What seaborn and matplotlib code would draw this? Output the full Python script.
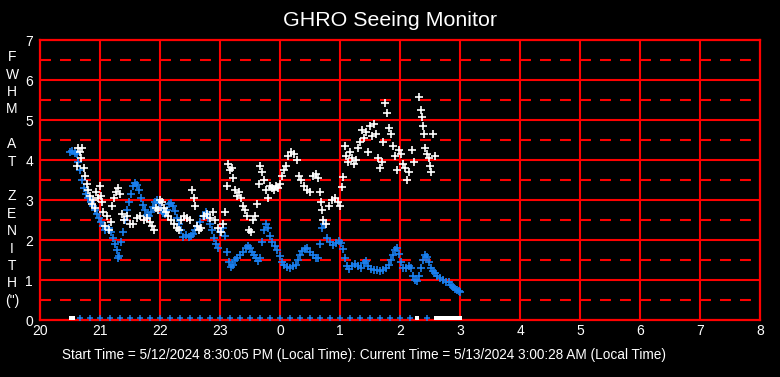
import matplotlib
matplotlib.use("Agg")
import matplotlib.pyplot as plt
import seaborn as sns
import pandas as pd

# FWHM at zenith (arcsec) vs local time in hours (24+ = after midnight)
blue_t = [20.50, 20.53, 20.58, 20.62, 20.63, 20.67, 20.70, 20.73, 20.77, 20.80,
          20.85, 20.88, 20.92, 20.95, 20.98, 21.02, 21.05, 21.08, 21.15, 21.18,
          21.22, 21.25, 21.28, 21.30, 21.32, 21.35, 21.38, 21.42, 21.45, 21.48,
          21.52, 21.55, 21.58, 21.62, 21.65, 21.68, 21.72, 21.75, 21.78, 21.82,
          21.85, 21.88, 21.92, 21.95, 21.98, 22.02, 22.05, 22.08, 22.12, 22.15,
          22.18, 22.22, 22.25, 22.28, 22.32, 22.35, 22.38, 22.43, 22.48, 22.52,
          22.55, 22.58, 22.62, 22.67, 22.72, 22.77, 22.80, 22.83, 22.87, 22.90,
          22.93, 22.97, 23.00, 23.05, 23.08, 23.12, 23.15, 23.18, 23.22, 23.25,
          23.28, 23.33, 23.38, 23.43, 23.47, 23.50, 23.53, 23.57, 23.60, 23.63,
          23.67, 23.70, 23.73, 23.77, 23.80, 23.83, 23.87, 23.92, 23.95, 24.00,
          24.03, 24.07, 24.12, 24.17, 24.22, 24.27, 24.30, 24.33, 24.37, 24.42,
          24.45, 24.50, 24.55, 24.60, 24.63, 24.67, 24.70, 24.73, 24.78, 24.83,
          24.88, 24.93, 24.98, 25.02, 25.05, 25.08, 25.12, 25.15, 25.20, 25.25,
          25.30, 25.35, 25.40, 25.43, 25.47, 25.52, 25.57, 25.62, 25.67, 25.72,
          25.77, 25.82, 25.85, 25.88, 25.92, 25.95, 25.98, 26.02, 26.05, 26.10,
          26.15, 26.18, 26.22, 26.25, 26.28, 26.32, 26.35, 26.38, 26.42, 26.45,
          26.48, 26.52, 26.55, 26.58, 26.62, 26.67, 26.72, 26.77, 26.82, 26.85,
          26.88, 26.92, 26.95, 26.98, 27.00]
blue_v = [4.20, 4.22, 4.18, 4.15, 3.95, 3.75, 3.50, 3.30, 3.15, 3.05,
          2.95, 2.85, 2.75, 2.65, 2.55, 2.45, 2.35, 2.25, 2.30, 2.20,
          2.05, 1.90, 1.75, 1.55, 1.60, 1.95, 2.20, 2.50, 2.75, 2.95,
          3.15, 3.35, 3.42, 3.38, 3.25, 3.05, 2.88, 2.75, 2.62, 2.60,
          2.70, 2.82, 2.95, 3.00, 2.92, 2.80, 2.68, 2.65, 2.75, 2.90,
          2.92, 2.85, 2.72, 2.55, 2.40, 2.25, 2.08, 2.12, 2.08, 2.10,
          2.15, 2.25, 2.35, 2.45, 2.60, 2.70, 2.55, 2.40, 2.25, 2.05,
          1.90, 1.80, 2.20, 2.30, 2.10, 1.70, 1.45, 1.32, 1.38, 1.50,
          1.55, 1.62, 1.70, 1.80, 1.84, 1.80, 1.70, 1.62, 1.55, 1.48,
          1.55, 1.95, 2.25, 2.40, 2.30, 2.10, 1.95, 1.85, 1.75, 1.60,
          1.45, 1.38, 1.32, 1.30, 1.35, 1.38, 1.50, 1.62, 1.72, 1.78,
          1.80, 1.70, 1.62, 1.55, 1.55, 1.90, 2.30, 2.40, 2.05, 1.95,
          1.88, 1.92, 1.98, 1.92, 1.78, 1.55, 1.35, 1.28, 1.35, 1.40,
          1.35, 1.30, 1.42, 1.48, 1.35, 1.28, 1.25, 1.25, 1.22, 1.25,
          1.30, 1.38, 1.50, 1.62, 1.75, 1.80, 1.65, 1.45, 1.30, 1.30,
          1.35, 1.30, 1.10, 1.00, 0.97, 1.10, 1.30, 1.50, 1.62, 1.58,
          1.45, 1.30, 1.22, 1.17, 1.10, 1.05, 1.00, 0.95, 0.95, 0.88,
          0.82, 0.78, 0.75, 0.72, 0.70]

white_t = [20.62, 20.63, 20.67, 20.68, 20.70, 20.73, 20.75, 20.78, 20.80, 20.83,
           20.87, 20.88, 20.92, 20.93, 20.97, 21.00, 21.02, 21.03, 21.05, 21.08,
           21.12, 21.15, 21.18, 21.20, 21.23, 21.27, 21.30, 21.33, 21.37, 21.40,
           21.45, 21.50, 21.55, 21.62, 21.67, 21.73, 21.78, 21.83, 21.87, 21.90,
           21.93, 21.97, 22.00, 22.03, 22.07, 22.10, 22.13, 22.18, 22.23, 22.28,
           22.32, 22.35, 22.40, 22.45, 22.50, 22.53, 22.57, 22.58, 22.62, 22.65,
           22.68, 22.73, 22.78, 22.83, 22.88, 22.92, 22.97, 23.02, 23.05, 23.08,
           23.12, 23.13, 23.17, 23.20, 23.22, 23.25, 23.28, 23.32, 23.35, 23.38,
           23.42, 23.45, 23.48, 23.52, 23.55, 23.58, 23.62, 23.65, 23.67, 23.70,
           23.73, 23.77, 23.80, 23.83, 23.87, 23.90, 23.93, 23.97, 24.00, 24.03,
           24.07, 24.10, 24.13, 24.18, 24.23, 24.28, 24.32, 24.35, 24.40, 24.45,
           24.50, 24.55, 24.60, 24.63, 24.67, 24.68, 24.70, 24.72, 24.77, 24.82,
           24.87, 24.92, 24.97, 25.00, 25.03, 25.05, 25.08, 25.10, 25.13, 25.17,
           25.20, 25.23, 25.27, 25.30, 25.33, 25.37, 25.40, 25.43, 25.47, 25.50,
           25.53, 25.57, 25.60, 25.63, 25.67, 25.70, 25.72, 25.75, 25.78, 25.82,
           25.85, 25.88, 25.92, 25.95, 25.98, 26.02, 26.05, 26.08, 26.12, 26.15,
           26.20, 26.23, 26.32, 26.35, 26.37, 26.38, 26.40, 26.42, 26.45, 26.48,
           26.50, 26.52, 26.55, 26.58]
white_v = [3.85, 4.30, 4.20, 4.05, 4.30, 3.80, 3.60, 3.40, 3.25, 3.10,
           2.90, 3.00, 2.80, 3.20, 3.05, 3.35, 3.10, 2.95, 2.70, 2.35,
           2.60, 2.25, 2.45, 2.85, 3.05, 3.20, 3.30, 3.15, 2.65, 2.50,
           2.60, 2.40, 2.40, 2.55, 2.60, 2.50, 2.55, 2.45, 2.35, 2.25,
           2.80, 2.75, 3.00, 2.95, 2.80, 2.70, 2.60, 2.50, 2.40, 2.30,
           2.25, 2.50, 2.60, 2.55, 2.50, 3.25, 3.05, 2.85, 2.35, 2.25,
           2.30, 2.60, 2.65, 2.55, 2.70, 2.50, 2.30, 2.20, 2.40, 2.70,
           3.35, 3.90, 3.75, 3.80, 3.55, 3.25, 3.10, 3.20, 3.05, 2.85,
           2.75, 2.60, 2.25, 2.20, 2.50, 2.60, 2.90, 3.40, 3.85, 3.70,
           3.50, 3.25, 3.05, 3.35, 3.30, 3.25, 3.35, 3.30, 3.40, 3.60,
           3.75, 3.85, 4.10, 4.20, 4.15, 4.00, 3.60, 3.50, 3.35, 3.25,
           3.20, 3.60, 3.65, 3.55, 3.20, 2.95, 2.75, 2.50, 2.40, 2.85,
           3.00, 3.05, 2.95, 2.85, 3.33, 3.57, 4.35, 4.10, 3.95, 4.20,
           4.05, 3.90, 4.00, 4.30, 4.45, 4.75, 4.55, 4.70, 4.20, 4.85,
           4.60, 4.90, 4.65, 4.05, 3.80, 3.95, 4.45, 5.42, 5.17, 4.80,
           4.65, 4.35, 4.10, 3.75, 4.25, 4.15, 3.90, 3.80, 3.50, 3.70,
           4.25, 3.95, 5.57, 5.25, 5.08, 4.85, 4.65, 4.30, 4.15, 4.05,
           3.85, 3.70, 4.65, 4.10]

# status markers along the zero line
zero_blue_t = [20.67, 20.83, 21.00, 21.17, 21.33, 21.50, 21.67, 21.83, 22.00, 22.17,
               22.33, 22.50, 22.67, 22.83, 23.00, 23.17, 23.33, 23.50, 23.67, 23.83,
               24.00, 24.17, 24.33, 24.50, 24.67, 24.83, 25.00, 25.17, 25.33, 25.50,
               25.67, 25.83, 26.00, 26.17, 26.45]
zero_white_t = [20.52, 20.55, 26.28, 26.60, 26.66, 26.72, 26.78, 26.84, 26.90, 26.96, 27.00]

hour_ticks = [20, 21, 22, 23, 24, 25, 26, 27, 28, 29, 30, 31, 32]
hour_labels = ["20", "21", "22", "23", "0", "1", "2", "3", "4", "5", "6", "7", "8"]

blue_c = "#1a80f0"
red = "#ff0000"

sns.set_style("dark")
plt.rcParams["font.family"] = ["Liberation Sans", "DejaVu Sans"]
plt.rcParams["lines.scale_dashes"] = False

fig = plt.figure(figsize=(7.8, 3.77), dpi=100, facecolor="black")
ax = fig.add_axes([40 / 780, 1 - 320 / 377, 720 / 780, 280 / 377])
ax.set_facecolor("black")

# grid
for y in range(1, 7):
    ax.axhline(y, color=red, lw=1.5, zorder=1)
for y in [0.5, 1.5, 2.5, 3.5, 4.5, 5.5, 6.5]:
    ax.axhline(y, color=red, lw=1.5, dashes=(7.9, 6.5), zorder=1)
for x in hour_ticks[1:-1]:
    ax.axvline(x, color=red, lw=1.5, zorder=1)

df_blue = pd.DataFrame({"t": blue_t, "v": blue_v})
df_white = pd.DataFrame({"t": white_t, "v": white_v})
sns.scatterplot(data=df_blue, x="t", y="v", marker="+", color=blue_c, s=28,
                linewidth=1.2, ax=ax, zorder=3)
sns.scatterplot(data=df_white, x="t", y="v", marker="+", color="white", s=28,
                linewidth=1.2, ax=ax, zorder=4)
sns.scatterplot(x=zero_blue_t, y=[0.05] * len(zero_blue_t), marker="+", color=blue_c,
                s=22, linewidth=1.1, ax=ax, zorder=3, clip_on=False)
sns.scatterplot(x=zero_white_t, y=[0.05] * len(zero_white_t), marker="s", color="white",
                s=12, linewidth=0, ax=ax, zorder=4, clip_on=False)

ax.set_xlim(20, 32)
ax.set_ylim(0, 7)
ax.set_xticks(hour_ticks)
ax.set_xticklabels(hour_labels)
ax.set_yticks(range(0, 8))
ax.tick_params(colors="white", labelsize=10, length=0)
ax.tick_params(axis="x", pad=3)
ax.tick_params(axis="y", pad=5)
ax.set_xlabel("")
ax.set_ylabel("")
ax.grid(False)
for sp in ax.spines.values():
    sp.set_color(red)
    sp.set_linewidth(1.6)
    sp.set_visible(True)

fig.text(0.5, 1 - 20 / 377, "GHRO Seeing Monitor", color="white", fontsize=15.4,
         ha="center", va="center")
fig.text(12 / 780, 1 - 179 / 377, "F\nW\nH\nM\n\nA\nT\n\nZ\nE\nN\nI\nT\nH\n(\")",
         color="white", fontsize=10, ha="center", va="center", linespacing=1.31)
fig.text(62 / 780, 1 - 355 / 377,
         "Start Time = 5/12/2024 8:30:05 PM (Local Time): Current Time = 5/13/2024 3:00:28 AM (Local Time)",
         color="white", fontsize=9.8, ha="left", va="center")

fig.savefig("out.png", dpi=100, facecolor="black")
